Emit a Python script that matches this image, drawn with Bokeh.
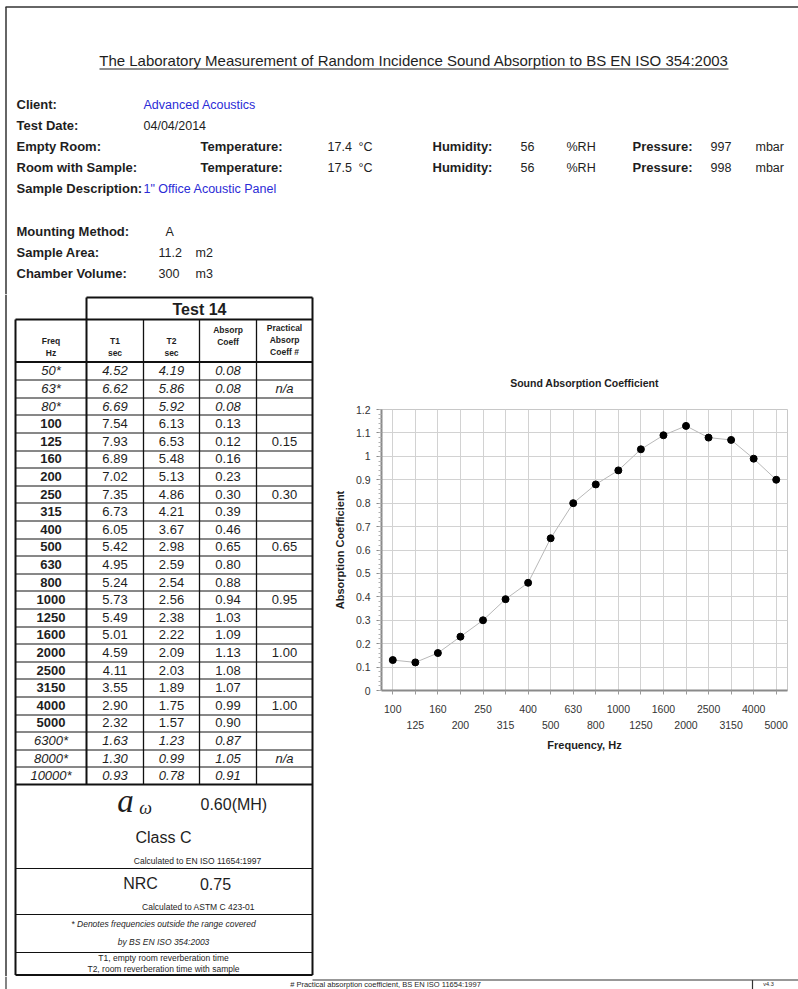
from bokeh.plotting import figure
from bokeh.layouts import column, row
from bokeh.models import (Range1d, ColumnDataSource, FixedTicker, LinearAxis, Grid,
                          NumeralTickFormatter)
from bokeh.embed import file_html
from bokeh.resources import INLINE
from bokeh.core.properties import value
import numpy as np

FONT = "Liberation Sans"
INK = "#1e1e1e"
BLUE = "#2b2bd6"

# ---------------- data ----------------
report_title = "The Laboratory Measurement of Random Incidence Sound Absorption to BS EN ISO 354:2003"
client = "Advanced Acoustics"
test_date = "04/04/2014"
room_labels = ["Empty Room:", "Room with Sample:"]
temperatures = ["17.4", "17.5"]
humidities = ["56", "56"]
pressures = ["997", "998"]
sample_description = "1\" Office Acoustic Panel"
mounting_method = "A"
sample_area = "11.2"
chamber_volume = "300"

test_name = "Test 14"
freq_labels = ["50*", "63*", "80*", "100", "125", "160", "200", "250", "315", "400", "500",
               "630", "800", "1000", "1250", "1600", "2000", "2500", "3150", "4000", "5000",
               "6300*", "8000*", "10000*"]
t1_sec = ["4.52", "6.62", "6.69", "7.54", "7.93", "6.89", "7.02", "7.35", "6.73", "6.05", "5.42",
          "4.95", "5.24", "5.73", "5.49", "5.01", "4.59", "4.11", "3.55", "2.90", "2.32",
          "1.63", "1.30", "0.93"]
t2_sec = ["4.19", "5.86", "5.92", "6.13", "6.53", "5.48", "5.13", "4.86", "4.21", "3.67", "2.98",
          "2.59", "2.54", "2.56", "2.38", "2.22", "2.09", "2.03", "1.89", "1.75", "1.57",
          "1.23", "0.99", "0.78"]
absorp_coeff = ["0.08", "0.08", "0.08", "0.13", "0.12", "0.16", "0.23", "0.30", "0.39", "0.46", "0.65",
                "0.80", "0.88", "0.94", "1.03", "1.09", "1.13", "1.08", "1.07", "0.99", "0.90",
                "0.87", "1.05", "0.91"]
practical_coeff = ["n/a", "0.15", "0.30", "0.65", "0.95", "1.00", "1.00", "n/a"]  # one per octave

alpha_w = "0.60(MH)"
absorber_class = "Class C"
nrc = "0.75"

chart_freq = ["100", "125", "160", "200", "250", "315", "400", "500", "630", "800",
              "1000", "1250", "1600", "2000", "2500", "3150", "4000", "5000"]
chart_coeff = [0.13, 0.12, 0.16, 0.23, 0.30, 0.39, 0.46, 0.65, 0.80, 0.88,
               0.94, 1.03, 1.09, 1.13, 1.08, 1.07, 0.99, 0.90]

W, H = 798, 989
TOP_END = 294
ROW_END = 976
SPLIT = 330


def canvas(w, h, x0, x1, y0, y1):
    f = figure(width=w, height=h, x_range=Range1d(x0, x1), y_range=Range1d(y1, y0),
               x_axis_type=None, y_axis_type=None, output_backend="svg",
               toolbar_location=None, min_border=0)
    f.grid.visible = False
    f.outline_line_color = None
    return f


def txt(f, xs, ys, texts, size, style="normal", color=INK, align="left", font=FONT):
    src = ColumnDataSource(dict(x=list(xs), y=list(ys), t=list(texts)))
    f.text(x="x", y="y", text="t", source=src, text_font=value(font),
           text_font_size=value(size), text_font_style=value(style), text_color=color,
           text_align=value(align), text_baseline=value("middle"))


def segs(f, x0, y0, x1, y1, width=1.0, color="#111111"):
    src = ColumnDataSource(dict(x0=list(x0), y0=list(y0), x1=list(x1), y1=list(y1)))
    f.segment(x0="x0", y0="y0", x1="x1", y1="y1", source=src, line_width=width, line_color=color)


# ---------------- header ----------------
top = canvas(W, TOP_END, 0, W, 0, TOP_END)
segs(top, [5.5, 5], [6.5, 6.5], [5.5, W], [TOP_END, 6.5], width=1.5, color="#333333")
txt(top, [413.5], [60], [report_title], "15px", align="center")
segs(top, [99], [68.5], [728], [68.5], width=1, color=INK)

LBL = "13px"
VAL = "12.5px"
txt(top, [16, 16], [104, 125], ["Client:", "Test Date:"], LBL, "bold")
txt(top, [143], [104], [client], VAL, color=BLUE)
txt(top, [143], [125], [test_date], VAL)
ry = [146, 167]
txt(top, [16, 16], ry, room_labels, LBL, "bold")
txt(top, [200, 200], ry, ["Temperature:"] * 2, LBL, "bold")
txt(top, [327, 327], ry, temperatures, VAL)
txt(top, [358, 358], ry, ["°C"] * 2, VAL)
txt(top, [432, 432], ry, ["Humidity:"] * 2, LBL, "bold")
txt(top, [520, 520], ry, humidities, VAL)
txt(top, [566, 566], ry, ["%RH"] * 2, VAL)
txt(top, [632, 632], ry, ["Pressure:"] * 2, LBL, "bold")
txt(top, [710, 710], ry, pressures, VAL)
txt(top, [755, 755], ry, ["mbar"] * 2, VAL)
txt(top, [16], [188], ["Sample Description:"], LBL, "bold")
txt(top, [143], [188], [sample_description], VAL, color=BLUE)
my = [231, 252, 273]
txt(top, [16, 16, 16], my, ["Mounting Method:", "Sample Area:", "Chamber Volume:"], LBL, "bold")
txt(top, [165, 158, 158], my, [mounting_method, sample_area, chamber_volume], VAL)
txt(top, [195, 195], my[1:], ["m2", "m3"], VAL)

# ---------------- table ----------------
left = canvas(SPLIT, ROW_END - TOP_END, 0, SPLIT, TOP_END, ROW_END)
segs(left, [5.5], [TOP_END], [5.5], [ROW_END], width=1.5, color="#333333")

cx = [15, 86, 143, 199, 256, 312]
cc = [50.5, 114.5, 171, 227.5, 284]
box_top, head_top, head_bot, row_h = 297, 319, 361.5, 17.6
n = len(freq_labels)
rows_bot = head_bot + row_h * n
sec = [rows_bot, 868, 914, 952, 974.5]

hx0, hy0, hx1, hy1 = [], [], [], []
for i in range(1, n):
    y = round(head_bot + row_h * i) + 0.5
    hx0.append(cx[0]); hy0.append(y); hy1.append(y); hx1.append(cx[5])
for y in sec[1:4]:
    hx0.append(cx[0]); hy0.append(y); hx1.append(cx[5]); hy1.append(y)
segs(left, hx0, hy0, hx1, hy1, width=1.0)
segs(left, [cx[2], cx[3], cx[4]], [head_top] * 3, [cx[2], cx[3], cx[4]], [rows_bot] * 3, width=1.3)
segs(left,
     [cx[1], cx[0], cx[0], cx[0], cx[0], cx[0], cx[5], cx[1]],
     [box_top, head_top, head_bot, rows_bot, sec[4], head_top, box_top, box_top],
     [cx[5], cx[5], cx[5], cx[5], cx[5], cx[0], cx[5], cx[1]],
     [box_top, head_top, head_bot, rows_bot, sec[4], sec[4], sec[4], rows_bot],
     width=2.0)

txt(left, [(cx[1] + cx[5]) / 2], [308.5], [test_name], "16px", "bold", align="center")
HS = "8.5px"
txt(left, [cc[0], cc[1], cc[2]], [340] * 3, ["Freq", "T1", "T2"], HS, "bold", align="center")
txt(left, [cc[0], cc[1], cc[2]], [352] * 3, ["Hz", "sec", "sec"], HS, "bold", align="center")
txt(left, [cc[3], cc[3]], [329, 341], ["Absorp", "Coeff"], HS, "bold", align="center")
txt(left, [cc[4]] * 3, [327, 339, 351], ["Practical", "Absorp", "Coeff #"], HS, "bold", align="center")

VS = "13px"
row_y = [head_bot + row_h * (i + 0.5) for i in range(n)]
star = [i for i, f in enumerate(freq_labels) if f.endswith("*")]
core = [i for i, f in enumerate(freq_labels) if not f.endswith("*")]
for idx, style_f, style_v in [(core, "bold", "normal"), (star, "italic", "italic")]:
    ys = [row_y[i] for i in idx]
    txt(left, [cc[0]] * len(idx), ys, [freq_labels[i] for i in idx], VS, style_f, align="center")
    txt(left, [cc[1]] * len(idx), ys, [t1_sec[i] for i in idx], VS, style_v, align="center")
    txt(left, [cc[2]] * len(idx), ys, [t2_sec[i] for i in idx], VS, style_v, align="center")
    txt(left, [cc[3]] * len(idx), ys, [absorp_coeff[i] for i in idx], VS, style_v, align="center")
oct_y = [row_y[3 * k + 1] for k in range(len(practical_coeff))]
na = [k for k, v in enumerate(practical_coeff) if v == "n/a"]
num = [k for k, v in enumerate(practical_coeff) if v != "n/a"]
txt(left, [cc[4]] * len(num), [oct_y[k] for k in num], [practical_coeff[k] for k in num], VS, align="center")
txt(left, [cc[4]] * len(na), [oct_y[k] for k in na], [practical_coeff[k] for k in na], VS, "italic", align="center")

txt(left, [125], [800], ["a"], "33px", "italic", align="center", font="Liberation Serif")
txt(left, [145], [807], ["ω"], "18px", "italic", align="center", font="Liberation Serif")
txt(left, [200], [804], [alpha_w], "16px")
txt(left, [163], [837], [absorber_class], "16px", align="center")
txt(left, [197], [860], ["Calculated to EN ISO 11654:1997"], "8.5px", align="center")
txt(left, [140], [883], ["NRC"], "16px", align="center")
txt(left, [215], [883], [nrc], "16px", align="center")
txt(left, [198], [906], ["Calculated to ASTM C 423-01"], "8.5px", align="center")
txt(left, [163, 163], [923, 941], ["* Denotes frequencies outside the range covered",
                                   "by BS EN ISO 354:2003"], "8.5px", "italic", align="center")
txt(left, [163, 163], [957.5, 968.5], ["T1, empty room reverberation time",
                                       "T2, room reverberation time with sample"], "8.5px", align="center")

# ---------------- chart ----------------
xi = list(range(len(chart_freq)))
cp = figure(width=W - SPLIT, height=ROW_END - TOP_END, x_range=Range1d(-0.5, len(chart_freq) - 0.5),
            y_range=Range1d(0, 1.2), x_axis_type=None, output_backend="svg",
            toolbar_location=None, min_border_left=380 - SPLIT, min_border_right=W - 787,
            min_border_top=409 - TOP_END, min_border_bottom=ROW_END - 690)
cp.outline_line_color = "#c8c8c8"

cp.title.text = "Sound Absorption Coefficient"
cp.title.align = "center"
cp.title.text_font = FONT
cp.title.text_font_size = "10.5px"
cp.title.text_font_style = "bold"
cp.title.text_color = INK
cp.title.standoff = 42

TICK_FS = "10.5px"
yt = FixedTicker(ticks=np.round(np.arange(0, 1.201, 0.1), 2).tolist(),
                 minor_ticks=np.round(np.arange(0, 1.201, 0.02), 2).tolist())
ya = cp.yaxis[0]
ya.ticker = yt
ya.formatter = NumeralTickFormatter(format="0.[0]")
ya.axis_line_color = "#8a8a8a"
ya.axis_line_width = 2
ya.major_tick_line_color = "#8a8a8a"
ya.major_tick_out = 5
ya.major_tick_in = 0
ya.minor_tick_line_color = "#b0b0b0"
ya.minor_tick_out = 3
ya.minor_tick_in = 0
ya.major_label_text_font = FONT
ya.major_label_text_font_size = TICK_FS
ya.major_label_text_color = "#333333"
ya.major_label_standoff = 6
ya.axis_label = "Absorption Coefficient"
ya.axis_label_text_font = FONT
ya.axis_label_text_font_size = "11px"
ya.axis_label_text_font_style = "bold"
ya.axis_label_text_color = INK
ya.axis_label_standoff = 7
cp.ygrid.ticker = yt
cp.ygrid.grid_line_color = "#d2d2d2"

cp.add_layout(Grid(dimension=0, ticker=FixedTicker(ticks=xi), grid_line_color="#d2d2d2"))

ax1 = LinearAxis(ticker=FixedTicker(ticks=xi),
                 major_label_overrides={i: (f if i % 2 == 0 else "") for i, f in enumerate(chart_freq)})
ax2 = LinearAxis(ticker=FixedTicker(ticks=xi),
                 major_label_overrides={i: (f if i % 2 == 1 else "") for i, f in enumerate(chart_freq)})
for ax in (ax1, ax2):
    ax.major_label_text_font = FONT
    ax.major_label_text_font_size = TICK_FS
    ax.major_label_text_color = "#333333"
    ax.minor_tick_line_color = None
ax1.axis_line_color = "#8a8a8a"
ax1.axis_line_width = 2
ax1.major_tick_line_color = "#9a9a9a"
ax1.major_tick_out = 4
ax1.major_tick_in = 0
ax1.major_label_standoff = 10
ax2.axis_line_color = None
ax2.major_tick_line_color = None
ax2.major_tick_out = 0
ax2.major_tick_in = 0
ax2.major_label_standoff = 5
ax2.axis_label = "Frequency, Hz"
ax2.axis_label_text_font = FONT
ax2.axis_label_text_font_size = "11px"
ax2.axis_label_text_font_style = "bold"
ax2.axis_label_text_color = INK
ax2.axis_label_standoff = 7
cp.add_layout(ax1, "below")
cp.add_layout(ax2, "below")

src = ColumnDataSource(dict(x=xi, y=chart_coeff, f=chart_freq))
cp.line(x="x", y="y", source=src, line_color="#b8b8b8", line_width=1)
cp.scatter(x="x", y="y", source=src, size=7, fill_color="black", line_color="black")

# ---------------- footer ----------------
foot = canvas(W, H - ROW_END, 0, W, ROW_END, H)
segs(foot, [5.5, 312, 752], [ROW_END, 979.5, 979.5], [5.5, W, 752], [H, 979.5, H],
     width=1.2, color="#333333")
txt(foot, [385], [983.5], ["# Practical absorption coefficient, BS EN ISO 11654:1997"], "7.5px", align="center")
txt(foot, [768], [983.5], ["v4.3"], "5.5px", align="center")

layout = column(top, row(left, column(cp)), foot)
open("out.html", "w").write(file_html(layout, INLINE))
